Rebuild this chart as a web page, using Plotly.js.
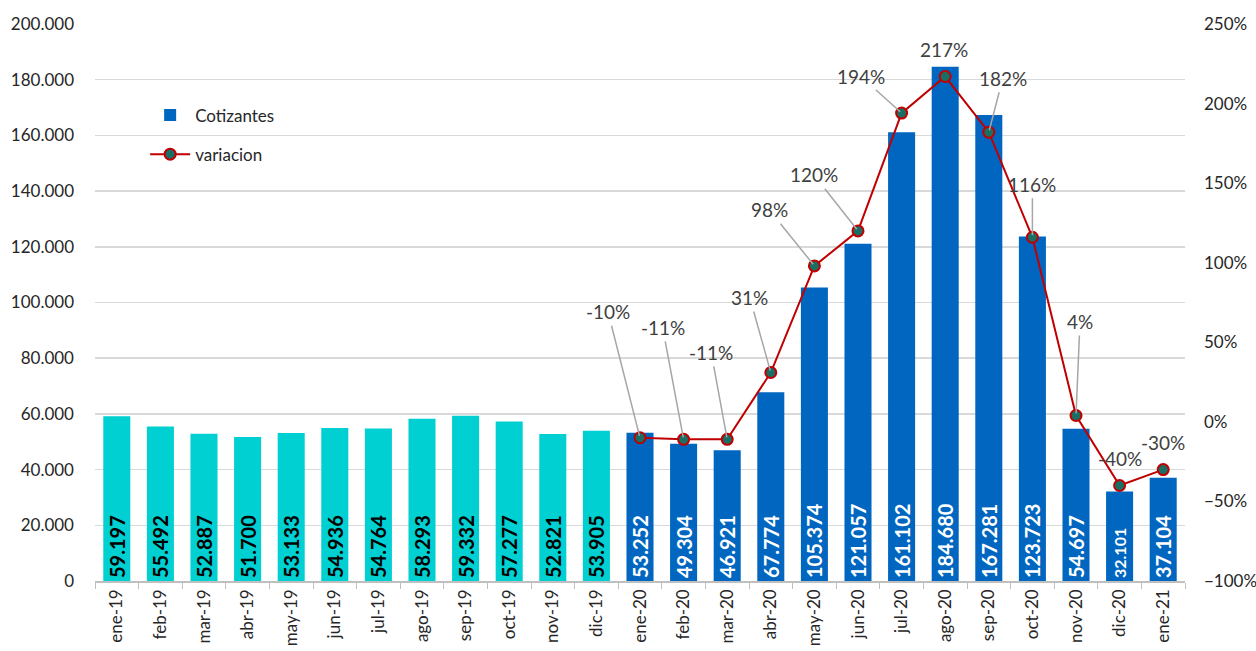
<!DOCTYPE html>
<html>
<head>
<meta charset="utf-8">
<script src="https://cdn.plot.ly/plotly-3.0.1.min.js"></script>
<style>
html,body{margin:0;padding:0;background:#fff;}
#chart{width:1256px;height:651px;}
</style>
</head>
<body>
<div id="chart"></div>
<script>
// ---- data ----
const months = ['ene-19','feb-19','mar-19','abr-19','may-19','jun-19','jul-19','ago-19','sep-19','oct-19','nov-19','dic-19',
                'ene-20','feb-20','mar-20','abr-20','may-20','jun-20','jul-20','ago-20','sep-20','oct-20','nov-20','dic-20','ene-21'];
const cotizantes = [59197,55492,52887,51700,53133,54936,54764,58293,59332,57277,52821,53905,
                    53252,49304,46921,67774,105374,121057,161102,184680,167281,123723,54697,32101,37104];
const variacion = [null,null,null,null,null,null,null,null,null,null,null,null,
                   -10,-11,-11,31,98,120,194,217,182,116,4,-40,-30];

// ---- styling (not data) ----
const CYAN = '#00D0D2', BLUE = '#0066C0', RED = '#C00000', TEAL = '#1B6E63';
// label offsets in pixels [ax, ay, showLeader]
const labelOffsets = {
  'ene-20':[-32,-126,true], 'feb-20':[-21,-112,true], 'mar-20':[-16,-87,true], 'abr-20':[-21,-75,true],
  'may-20':[-45,-56,true], 'jun-20':[-44,-56,true], 'jul-20':[-41,-37,true], 'ago-20':[-1,-27,false],
  'sep-20':[14,-54,true], 'oct-20':[0,-53,true], 'nov-20':[4,-94,true], 'dic-20':[0,-27,false], 'ene-21':[0,-27,false]
};

const is2019 = months.map(m => m.endsWith('-19'));
const y2019 = cotizantes.map((v,i) => is2019[i] ? v : null);
const y2020 = cotizantes.map((v,i) => is2019[i] ? null : v);
const textSize20 = cotizantes.map(v => v < 35000 ? 16 : 20);

const FONT = 'Lato, "Open Sans", sans-serif';

const traces = [
  {type:'bar', x:months, y:y2019, name:'Cotizantes 2019', showlegend:false, legendgroup:'a',
   marker:{color:CYAN}, width:0.62,
   texttemplate:'%{y:,d}', textposition:'inside', insidetextanchor:'start', textangle:-90, constraintext:'none',
   textfont:{family:FONT, size:20, color:'#000', weight:'bold'}, hoverinfo:'x+y'},
  {type:'bar', x:months, y:y2020, name:'Cotizantes', legendgroup:'a',
   marker:{color:BLUE}, width:0.62,
   texttemplate:'%{y:,d}', textposition:'inside', insidetextanchor:'start', textangle:-90, constraintext:'none',
   textfont:{family:FONT, size:textSize20, color:'#fff', weight:'bold'}, hoverinfo:'x+y'},
  {type:'scatter', mode:'lines+markers', x:months, y:variacion, name:'variacion', yaxis:'y2', legendgroup:'b',
   line:{color:RED, width:2}, marker:{size:11, color:TEAL, line:{color:RED, width:2}}, connectgaps:false}
];

const annotations = months.map((m,i) => {
  if (variacion[i] === null) return null;
  const o = labelOffsets[m];
  return {x:m, y:variacion[i], xref:'x', yref:'y2', text:variacion[i]+'%',
    showarrow:true, arrowhead:0, arrowwidth:1.5, arrowcolor:o[2] ? '#A6A6A6' : 'rgba(0,0,0,0)',
    ax:o[0], ay:o[1], standoff:2, startstandoff:1,
    font:{family:FONT, size:19, color:'#404040'}};
}).filter(a => a);

const layout = {
  width:1256, height:651,
  margin:{l:95, r:71, t:24, b:70, pad:0},
  paper_bgcolor:'#fff', plot_bgcolor:'rgba(0,0,0,0)',
  separators:',.',
  barmode:'overlay',
  font:{family:FONT, color:'#262626'},
  showlegend:true,
  legend:{x:0.046, y:0.868, xanchor:'left', yanchor:'top', bgcolor:'rgba(0,0,0,0)',
          font:{family:FONT, size:17, color:'#262626'}, tracegroupgap:14, itemwidth:40},
  xaxis:{type:'category', range:[-0.5, 24.5], tickangle:-90, automargin:false, showgrid:false,
         showline:true, linecolor:'#BFBFBF', linewidth:1.5, ticks:'outside', tickson:'boundaries',
         ticklen:6, tickcolor:'#BFBFBF', tickfont:{family:FONT, size:17, color:'#262626'}},
  yaxis:{range:[0,200000], dtick:20000, tickformat:',d', showgrid:true, gridcolor:'#D9D9D9', gridwidth:1.5,
         zeroline:false, automargin:false, ticks:'', ticklabelstandoff:20,
         tickfont:{family:FONT, size:17, color:'#262626'}},
  yaxis2:{range:[-100,250], dtick:50, ticksuffix:'%', overlaying:'y', side:'right', showgrid:false,
          zeroline:false, automargin:false, ticks:'', ticklabelstandoff:18,
          tickfont:{family:FONT, size:17, color:'#262626'}},
  annotations:annotations
};

Plotly.newPlot('chart', traces, layout, {displayModeBar:false, staticPlot:true});
</script>
</body>
</html>
